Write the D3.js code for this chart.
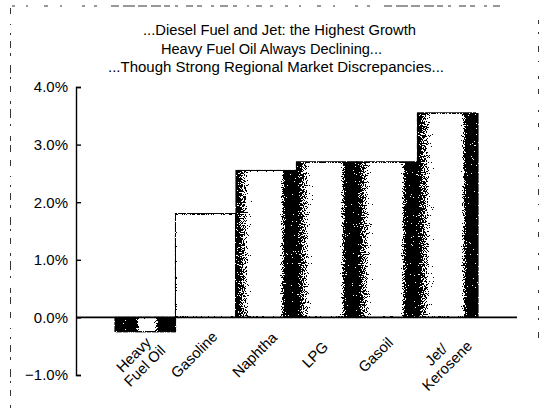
<!DOCTYPE html>
<html>
<head>
<meta charset="utf-8">
<script src="https://cdn.jsdelivr.net/npm/d3@7/dist/d3.min.js"></script>
<style>
  html, body { margin: 0; padding: 0; background: #fff; }
  svg { display: block; }
  text { font-family: "Liberation Sans", Arial, Helvetica, sans-serif; fill: #000; }
</style>
</head>
<body>
<svg id="chart" width="541" height="411"></svg>
<script>
// Average annual demand growth by refined product
const categories = ["Heavy\nFuel Oil", "Gasoline", "Naphtha", "LPG", "Gasoil", "Jet/\nKerosene"];
const growth = [-0.25, 1.8, 2.55, 2.7, 2.7, 3.55];
const tickValues = [-1, 0, 1, 2, 3, 4];
const tickLabels = ["\u22121.0%", "0.0%", "1.0%", "2.0%", "3.0%", "4.0%"];
const titleLines = [
  "...Diesel Fuel and Jet: the Highest Growth",
  "Heavy Fuel Oil Always Declining...",
  "...Though Strong Regional Market Discrepancies..."
];

const svg = d3.select("#chart");
const W = 541, H = 411;

const x = d3.scaleBand()
  .domain(categories)
  .range([76, 517])
  .paddingInner(0)
  .paddingOuter(0.645);

const y = d3.scaleLinear()
  .domain([-1, 4])
  .range([375, 87]);

const defs = svg.append("defs");

function grey(v) { const g = Math.round(255 * v); return d3.rgb(g, g, g).formatHex(); }

// shaded "cylinder" look: grey edge on the left, white body, black edge on the right
const cyl = defs.append("linearGradient").attr("id", "cyl")
  .attr("x1", "0").attr("x2", "1").attr("y1", "0").attr("y2", "0");
[[0, 0.1], [0.05, 0.28], [0.15, 0.6], [0.24, 0.95], [0.27, 1], [0.72, 1],
 [0.77, 0.5], [0.81, 0.1], [0.84, 0], [1, 0]].forEach(([o, v]) => {
  cyl.append("stop").attr("offset", o).attr("stop-color", grey(v));
});

// negative bar: black with a white band in the middle
const neg = defs.append("linearGradient").attr("id", "neg")
  .attr("x1", "0").attr("x2", "1").attr("y1", "0").attr("y2", "0");
[[0, 0], [0.34, 0], [0.40, 0.8], [0.43, 1], [0.64, 1], [0.68, 0.7], [0.72, 0], [1, 0]].forEach(([o, v]) => {
  neg.append("stop").attr("offset", o).attr("stop-color", grey(v));
});

// stipple dithering: compare grey level against noise, keep pure black / white
const f = defs.append("filter").attr("id", "stipple")
  .attr("filterUnits", "userSpaceOnUse")
  .attr("x", 0).attr("y", 0).attr("width", W).attr("height", H)
  .attr("color-interpolation-filters", "sRGB");
f.append("feTurbulence").attr("type", "fractalNoise").attr("baseFrequency", 0.9)
  .attr("numOctaves", 2).attr("seed", 7).attr("result", "noise");
f.append("feColorMatrix").attr("in", "noise").attr("type", "matrix")
  .attr("values", "-2 0 0 0 1.5  -2 0 0 0 1.5  -2 0 0 0 1.5  0 0 0 0 1")
  .attr("result", "inv");
f.append("feComposite").attr("in", "SourceGraphic").attr("in2", "inv")
  .attr("operator", "arithmetic").attr("k1", 0).attr("k2", 0.5).attr("k3", 0.5).attr("k4", 0)
  .attr("result", "sum");
const ct = f.append("feComponentTransfer").attr("in", "sum").attr("result", "bw");
["feFuncR", "feFuncG", "feFuncB"].forEach(n => ct.append(n).attr("type", "discrete").attr("tableValues", "0 1"));
f.append("feComposite").attr("in", "bw").attr("in2", "SourceAlpha").attr("operator", "in");

// dashed frame around the figure
const frame = svg.append("g").attr("fill", "none").attr("stroke", "#333");
frame.append("line").attr("x1", 12).attr("x2", 500).attr("y1", 6).attr("y2", 6)
  .attr("stroke-width", 1)
  .attr("stroke-dasharray", "3,11,2,16,4,12,2,20,3,9,3,14,8,4,12,3,9,4,10,3,6,5,3,8,7,4,5,9,3,6,8,5,4,10,2,7,6,8,3,12");
frame.append("line").attr("x1", 10.5).attr("x2", 10.5).attr("y1", 8).attr("y2", H)
  .attr("stroke-width", 1)
  .attr("stroke-dasharray", "6,10,1,8,2,6,7,5,3,9,8,4,2,7,6,9,3,5,9,6,2,10,5,4,7,8");
frame.append("line").attr("x1", 538.5).attr("x2", 538.5).attr("y1", 20).attr("y2", 340)
  .attr("stroke-width", 1)
  .attr("stroke-dasharray", "4,8,2,12,6,9,1,14,3,10,5,16,2,11,4,20,3,13");

// title
const title = svg.append("g").attr("font-size", 14.7);
const titleCx = [279.5, 271.5, 276];
const titleW = [273, 221, 336];
titleLines.forEach((t, i) => {
  title.append("text")
    .attr("x", titleCx[i]).attr("y", 35 + i * 18.5)
    .attr("text-anchor", "middle")
    .attr("textLength", titleW[i]).attr("lengthAdjust", "spacingAndGlyphs")
    .text(t);
});

// bars
const bars = svg.append("g").attr("filter", "url(#stipple)");
categories.forEach((c, i) => {
  const v = growth[i];
  const fill = v < 0 ? "url(#neg)" : (c === "Gasoline" ? "#fff" : "url(#cyl)");
  bars.append("rect")
    .attr("x", x(c)).attr("width", x.bandwidth())
    .attr("y", y(Math.max(0, v)))
    .attr("height", Math.abs(y(v) - y(0)))
    .attr("fill", fill)
    .attr("stroke", "#000")
    .attr("stroke-width", 1.4);
});

// zero line
svg.append("line")
  .attr("x1", 76).attr("x2", 517)
  .attr("y1", y(0)).attr("y2", y(0))
  .attr("stroke", "#000").attr("stroke-width", 1.6);

// y axis with inward ticks
const yAxis = d3.axisLeft(y)
  .tickValues(tickValues)
  .tickFormat((d, i) => tickLabels[i])
  .tickSizeInner(-5)
  .tickSizeOuter(-5)
  .tickPadding(8);
const ya = svg.append("g").attr("transform", "translate(76,0)").call(yAxis);
ya.selectAll("path, line").attr("stroke", "#000").attr("stroke-width", 1.4);
ya.selectAll("text").attr("font-size", 15).attr("fill", "#000")
  .attr("font-family", "\"Liberation Sans\", Arial, sans-serif");

// rotated category labels
const lab = svg.append("g").attr("font-size", 14.8);
categories.forEach((c) => {
  const cx = x(c) + x.bandwidth() / 2 - 8;
  const cy = y(0) + 41;
  const t = lab.append("text")
    .attr("transform", `translate(${cx},${cy}) rotate(-45)`)
    .attr("text-anchor", "middle");
  c.split("\n").forEach((line, k) => {
    t.append("tspan").attr("x", 0).attr("dy", k === 0 ? 0 : "1.05em").text(line);
  });
});
</script>
</body>
</html>
